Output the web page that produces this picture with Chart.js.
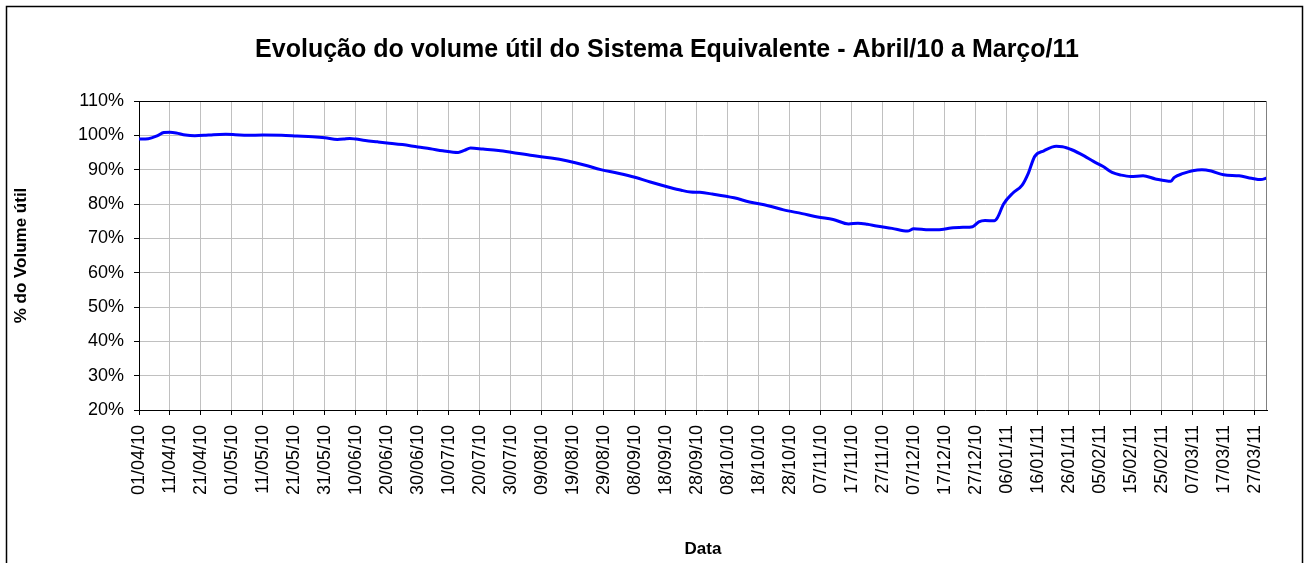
<!DOCTYPE html>
<html>
<head>
<meta charset="utf-8">
<script src="https://cdn.jsdelivr.net/npm/chart.js@4.4.1/dist/chart.umd.min.js"></script>
<style>
  html, body { margin: 0; padding: 0; background: #fff; }
  #wrap { width: 1307px; height: 563px; position: relative; }
</style>
</head>
<body>
<div id="wrap"><canvas id="c" width="1307" height="563"></canvas></div>
<script>
// ---- Texts ----
const chartTitle = 'Evolução do volume útil do Sistema Equivalente - Abril/10 a Março/11';
const yAxisTitle = '% do Volume útil';
const xAxisTitle = 'Data';

// ---- X tick labels (every 10 days) ----
const tickLabels = [
  '01/04/10','11/04/10','21/04/10','01/05/10','11/05/10','21/05/10','31/05/10',
  '10/06/10','20/06/10','30/06/10','10/07/10','20/07/10','30/07/10','09/08/10',
  '19/08/10','29/08/10','08/09/10','18/09/10','28/09/10','08/10/10','18/10/10',
  '28/10/10','07/11/10','17/11/10','27/11/10','07/12/10','17/12/10','27/12/10',
  '06/01/11','16/01/11','26/01/11','05/02/11','15/02/11','25/02/11','07/03/11',
  '17/03/11','27/03/11'
];

// ---- Y ticks (% do volume útil) ----
const yTickValues = [20, 30, 40, 50, 60, 70, 80, 90, 100, 110];

const sampleDates = [
  '01/04/10','04/04/10','07/04/10','09/04/10','11/04/10','13/04/10','16/04/10','19/04/10',
  '22/04/10','25/04/10','29/04/10','02/05/10','06/05/10','11/05/10','17/05/10','22/05/10',
  '27/05/10','31/05/10','04/06/10','06/06/10','08/06/10','10/06/10','13/06/10','17/06/10',
  '20/06/10','25/06/10','30/06/10','04/07/10','08/07/10','13/07/10','15/07/10','17/07/10',
  '21/07/10','26/07/10','30/07/10','06/08/10','12/08/10','17/08/10','23/08/10','28/08/10',
  '03/09/10','08/09/10','13/09/10','19/09/10','23/09/10','26/09/10','29/09/10','03/10/10',
  '10/10/10','15/10/10','21/10/10','26/10/10','01/11/10','06/11/10','11/11/10','16/11/10',
  '19/11/10','22/11/10','25/11/10','30/11/10','05/12/10','07/12/10','12/12/10','16/12/10',
  '19/12/10','23/12/10','26/12/10','28/12/10','30/12/10','02/01/11','03/01/11','05/01/11',
  '08/01/11','11/01/11','13/01/11','15/01/11','18/01/11','22/01/11','24/01/11','27/01/11',
  '31/01/11','03/02/11','06/02/11','09/02/11','12/02/11','15/02/11','19/02/11','23/02/11',
  '28/02/11','01/03/11','04/03/11','07/03/11','10/03/11','13/03/11','17/03/11','22/03/11',
  '26/03/11','29/03/11','31/03/11'
];
const volume = [
  98.9, 99.0, 99.9, 100.8, 100.9, 100.7, 100.1, 99.9,
  100.0, 100.2, 100.3, 100.2, 100.0, 100.1, 100.0, 99.8,
  99.6, 99.3, 98.8, 98.9, 99.1, 98.9, 98.5, 98.1,
  97.8, 97.3, 96.6, 96.1, 95.5, 95.0, 95.6, 96.3,
  96.0, 95.6, 95.1, 94.1, 93.4, 92.6, 91.3, 90.0,
  88.9, 87.8, 86.4, 84.9, 84.0, 83.5, 83.4, 82.9,
  81.8, 80.6, 79.5, 78.3, 77.2, 76.2, 75.5, 74.2,
  74.4, 74.1, 73.6, 72.9, 72.1, 72.8, 72.5, 72.6,
  73.0, 73.2, 73.4, 74.8, 75.2, 75.1, 76.0, 80.0,
  83.2, 85.5, 89.0, 93.8, 95.5, 96.8, 96.7, 95.8,
  94.0, 92.4, 91.0, 89.2, 88.4, 88.0, 88.2, 87.3,
  86.6, 87.7, 88.9, 89.7, 90.0, 89.6, 88.5, 88.2,
  87.5, 87.1, 87.6
];

const START = Date.UTC(2010, 3, 1);
function dayIndex(s) {
  const [d, m, y] = s.split('/').map(Number);
  return Math.round((Date.UTC(2000 + y, m - 1, d) - START) / 86400000);
}
const lastDay = dayIndex('31/03/11');

const FONT = '"Liberation Sans", Arial, Helvetica, sans-serif';

const framePlugin = {
  id: 'frame',
  beforeDraw(chart) {
    const ctx = chart.ctx;
    ctx.save();
    ctx.fillStyle = '#ffffff';
    ctx.fillRect(0, 0, chart.width, chart.height);
    ctx.restore();
  },
  afterDraw(chart) {
    const ctx = chart.ctx;
    const a = chart.chartArea;
    ctx.save();
    // outer chart frame
    ctx.strokeStyle = '#000000';
    ctx.lineWidth = 1.5;
    ctx.strokeRect(6.5, 6.5, 1296, 700);
    // plot-area top and right borders
    ctx.lineWidth = 1;
    ctx.strokeStyle = '#000000';
    ctx.beginPath();
    ctx.moveTo(a.left, Math.round(a.top) + 0.5);
    ctx.lineTo(a.right, Math.round(a.top) + 0.5);
    ctx.stroke();
    ctx.strokeStyle = '#808080';
    ctx.beginPath();
    ctx.moveTo(Math.round(a.right) - 0.5, a.top);
    ctx.lineTo(Math.round(a.right) - 0.5, a.bottom);
    ctx.stroke();
    // main title
    ctx.fillStyle = '#000000';
    ctx.font = 'bold 25px ' + FONT;
    ctx.textAlign = 'center';
    ctx.textBaseline = 'alphabetic';
    ctx.fillText(chartTitle, 667, 57);
    ctx.restore();
  }
};

new Chart(document.getElementById('c'), {
  type: 'line',
  data: {
    datasets: [{
      label: yAxisTitle,
      data: sampleDates.map((d, i) => ({ x: dayIndex(d), y: volume[i] })),
      borderColor: '#0000ff',
      borderWidth: 3,
      pointRadius: 0,
      fill: false,
      cubicInterpolationMode: 'monotone'
    }]
  },
  options: {
    responsive: false,
    animation: false,
    devicePixelRatio: 1,
    layout: { padding: { left: 0, top: 101, right: 40, bottom: 0 } },
    plugins: {
      legend: { display: false },
      title: { display: false },
      tooltip: { enabled: false }
    },
    scales: {
      x: {
        type: 'linear',
        min: 0,
        max: lastDay,
        afterFit(scale) { scale.height = 153; },
        afterBuildTicks(scale) { scale.ticks = tickLabels.map((_, i) => ({ value: i * 10 })); },
        ticks: {
          autoSkip: false,
          minRotation: 90,
          maxRotation: 90,
          padding: 10,
          color: '#000000',
          font: { family: FONT, size: 18 },
          callback: (v, i) => tickLabels[i]
        },
        grid: { color: '#c0c0c0', tickColor: '#000000', tickLength: 5, lineWidth: 1 },
        border: { color: '#000000', width: 1 },
        title: {
          display: true,
          text: xAxisTitle,
          color: '#000000',
          font: { family: FONT, size: 17, weight: 'bold' },
          padding: { top: 0, bottom: 3 }
        }
      },
      y: {
        min: 20,
        max: 110,
        afterFit(scale) { scale.width = 139; },
        afterBuildTicks(scale) { scale.ticks = yTickValues.map(v => ({ value: v })); },
        ticks: {
          padding: 10,
          color: '#000000',
          font: { family: FONT, size: 18 },
          callback: v => v + '%'
        },
        grid: {
          color: ctx => (ctx.tick && ctx.tick.value === 110) ? '#000000' : '#c0c0c0',
          tickColor: '#000000',
          tickLength: 5,
          lineWidth: 1
        },
        border: { color: '#000000', width: 1 },
        title: {
          display: true,
          text: yAxisTitle,
          color: '#000000',
          font: { family: FONT, size: 17, weight: 'bold' },
          padding: { top: 11, bottom: 0 }
        }
      }
    }
  },
  plugins: [framePlugin]
});
</script>
</body>
</html>
